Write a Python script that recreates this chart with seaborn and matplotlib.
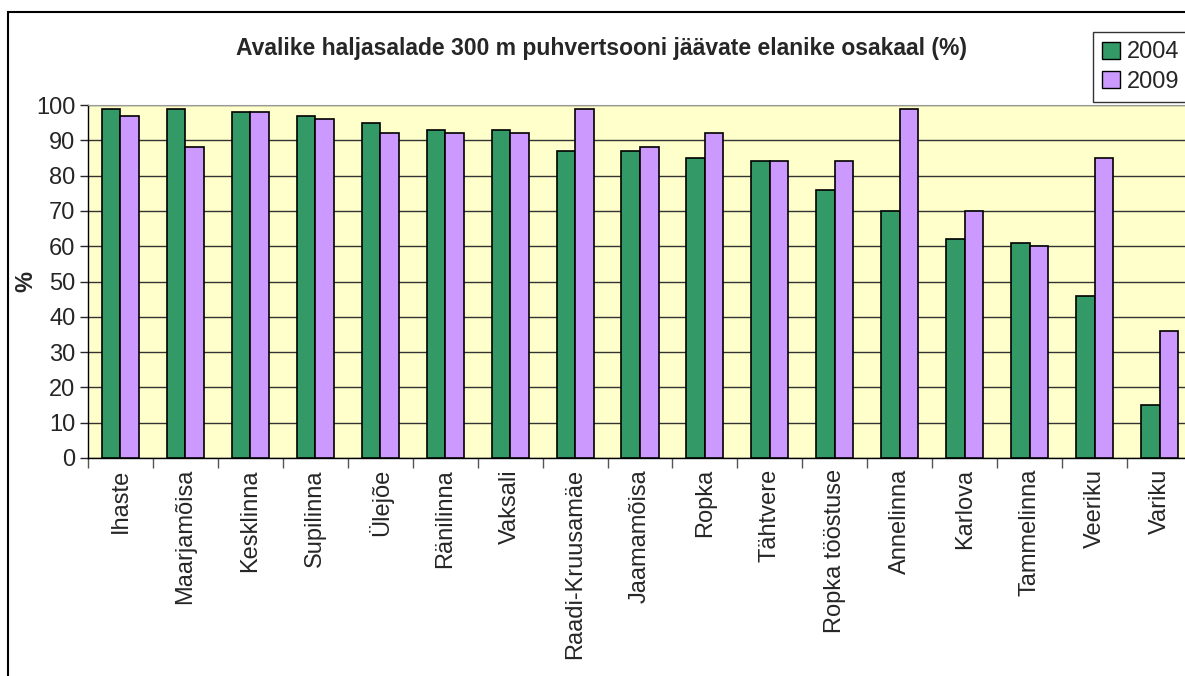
import matplotlib
matplotlib.use('Agg')
import matplotlib.pyplot as plt
from matplotlib.patches import Rectangle
import seaborn as sns
import pandas as pd
import numpy as np

piirkonnad = ['Ihaste', 'Maarjamõisa', 'Kesklinna', 'Supilinna', 'Ülejõe', 'Ränilinna',
              'Vaksali', 'Raadi-Kruusamäe', 'Jaamamõisa', 'Ropka', 'Tähtvere',
              'Ropka tööstuse', 'Annelinna', 'Karlova', 'Tammelinna', 'Veeriku', 'Variku']
aasta_2004 = [99, 99, 98, 97, 95, 93, 93, 87, 87, 85, 84, 76, 70, 62, 61, 46, 15]
aasta_2009 = [97, 88, 98, 96, 92, 92, 92, 99, 88, 92, 84, 84, 99, 70, 60, 85, 36]
aastad = ['2004', '2009']
varvid = ['#339966', '#CC99FF']

df = pd.DataFrame({
    'piirkond': piirkonnad * 2,
    'aasta': [aastad[0]] * len(piirkonnad) + [aastad[1]] * len(piirkonnad),
    'osakaal': aasta_2004 + aasta_2009,
})

sns.set_style('white')
plt.rcParams['font.family'] = ['Liberation Sans', 'DejaVu Sans']

fig = plt.figure(figsize=(11.85, 6.76), dpi=100)
ax = fig.add_axes([88 / 1185, 1 - 458 / 676, 1104 / 1185, 353 / 676])
ax.set_facecolor('#FFFFCC')

sns.barplot(data=df, x='piirkond', y='osakaal', hue='aasta', palette=varvid,
            width=0.57, edgecolor='black', linewidth=1.2, saturation=1, ax=ax,
            legend=False, zorder=3)

ax.set_ylim(0, 100)
ax.set_xlim(-0.5, len(piirkonnad) - 0.5)
ax.set_yticks(np.arange(0, 101, 10))
ax.yaxis.grid(True, color='#333333', linewidth=1)
ax.set_axisbelow(True)
ax.tick_params(axis='y', labelsize=17, length=6, width=1, direction='out', left=True, pad=3)
ax.set_xticks(range(len(piirkonnad)))
ax.set_xticklabels(piirkonnad, rotation=90, fontsize=17)
ax.set_xticks(np.arange(-0.5, len(piirkonnad), 1), minor=True)
ax.tick_params(axis='x', which='major', length=0, pad=8)
ax.tick_params(axis='x', which='minor', length=7, width=1, color='#555555', bottom=True)
ax.set_xlabel('')
ax.set_ylabel('%', fontsize=17, fontweight='bold')
ax.yaxis.set_label_coords((37 - 88) / 1104, 0.5)

for side in ['left', 'bottom']:
    ax.spines[side].set_color('black')
    ax.spines[side].set_linewidth(1)
ax.spines['top'].set_color('#999999')
ax.spines['right'].set_visible(False)

fig.text(602 / 1185, 1 - 49 / 676, 'Avalike haljasalade 300 m puhvertsooni jäävate elanike osakaal (%)',
         ha='center', va='center', fontsize=16.5, fontweight='bold')

kastid = [Rectangle((0, 0), 1, 1, facecolor=c, edgecolor='black', linewidth=1) for c in varvid]
fig.legend(kastid, aastad, loc='upper left', bbox_to_anchor=(1093 / 1185, 1 - 32 / 676),
           fontsize=17, frameon=True, fancybox=False, edgecolor='black',
           handlelength=0.75, handleheight=0.75, handletextpad=0.3, borderpad=0.4,
           labelspacing=0.3, borderaxespad=0)

fig.patches.append(Rectangle((8 / 1185, -0.01), 1.2, 1 - 12 / 676 + 0.01,
                             transform=fig.transFigure, fill=False, edgecolor='black',
                             linewidth=1.5))

fig.savefig('out.png', dpi=100)
